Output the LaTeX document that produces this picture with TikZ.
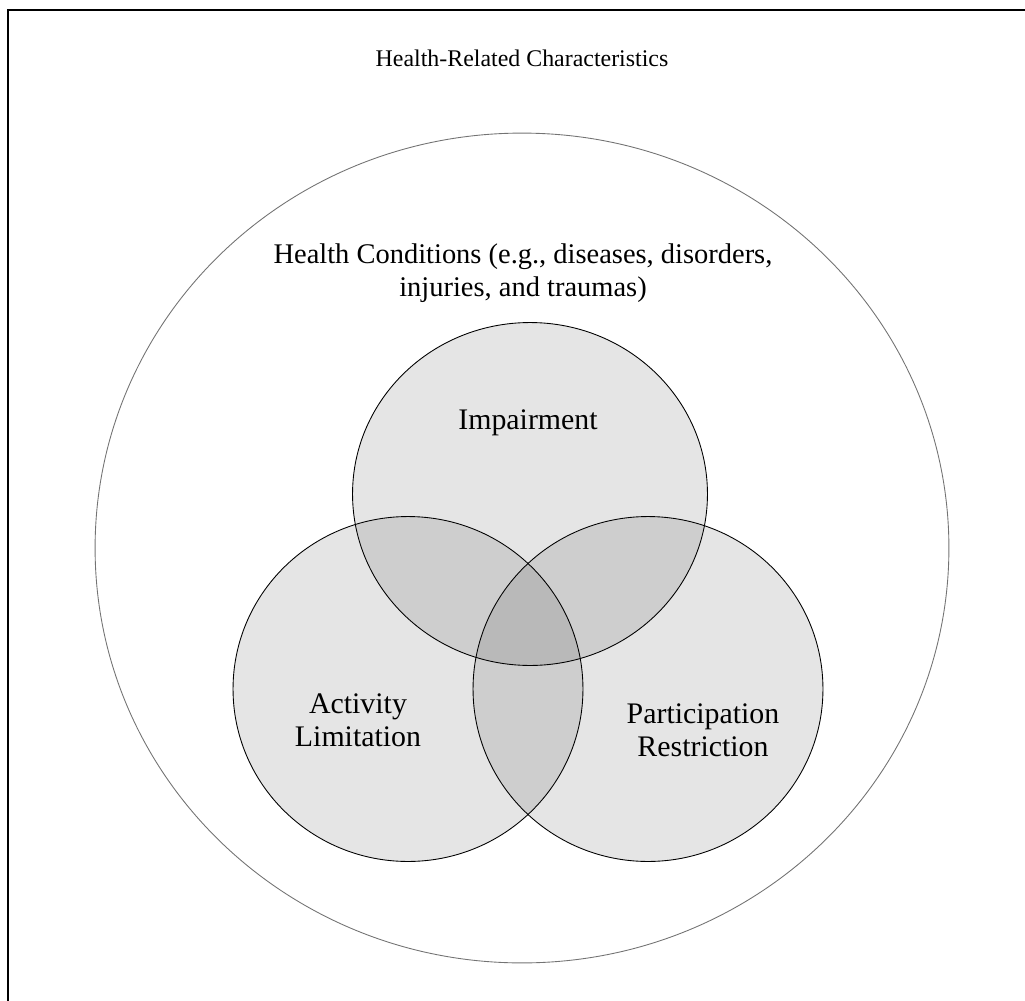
\documentclass[tikz,border=0pt]{standalone}
\usepackage{fontspec}
\setmainfont{Liberation Serif}
\usetikzlibrary{shapes.geometric}

\begin{document}
\begin{tikzpicture}[x=0.02cm,y=-0.02cm,
    set/.style={ellipse,draw=black,line width=0.5pt,inner sep=0pt,fill=black,fill opacity=0.1,draw opacity=1},
    big/.style={ellipse,draw=black!55,line width=0.5pt,inner sep=0pt},
    lbl/.style={align=center,font=\fontsize{17}{19}\selectfont}]
    \useasboundingbox (0,0) rectangle (1025,1001);
    \draw [line width=1.3pt] (8,1040) -- (8,10) -- (1040,10);

    \node [font=\fontsize{13.6}{16}\selectfont] (title) at (522,58) {Health-Related Characteristics};
    \node [big,minimum width=17.08cm,minimum height=16.6cm] (hc) at (522,548) {};
    \node [lbl,font=\fontsize{16.2}{18.7}\selectfont] (hclbl) at (523,273) {Health Conditions (e.g., diseases, disorders,\\injuries, and traumas)};

    \node [set,minimum width=7.1cm,minimum height=6.86cm] (imp) at (530,494) {};
    \node [set,minimum width=7.0cm,minimum height=6.9cm] (act) at (408,689) {};
    \node [set,minimum width=7.0cm,minimum height=6.9cm] (par) at (648,689) {};

    \node [lbl] (implbl) at (528,423) {Impairment};
    \node [lbl] (actlbl) at (358,720) {Activity\\Limitation};
    \node [lbl] (parlbl) at (703,730) {Participation\\Restriction};
\end{tikzpicture}
\end{document}
